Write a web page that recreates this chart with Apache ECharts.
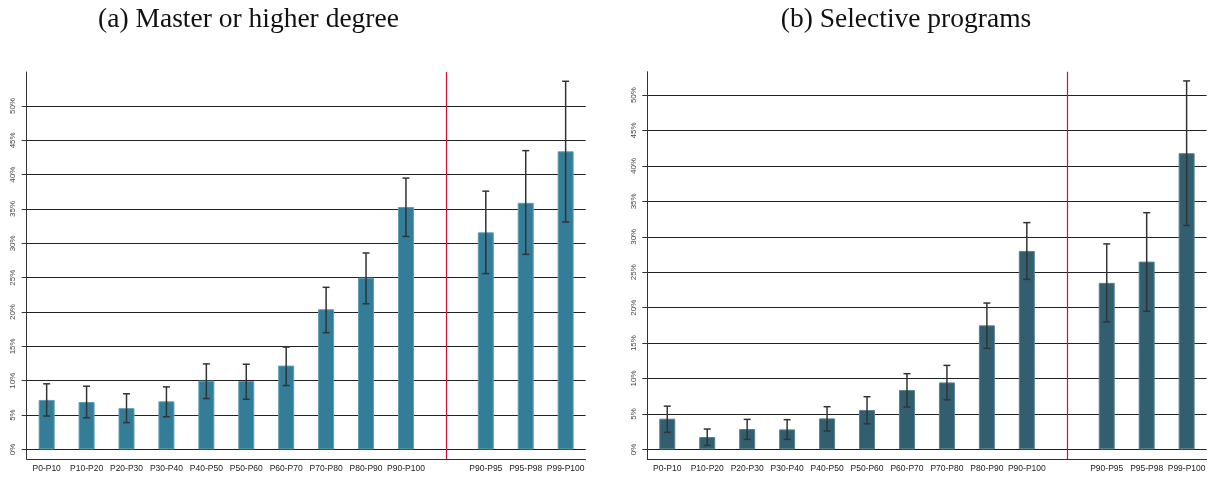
<!DOCTYPE html>
<html>
<head>
<meta charset="utf-8">
<script src="https://cdn.jsdelivr.net/npm/echarts@6/dist/echarts.min.js"></script>
<style>
html,body{margin:0;padding:0;background:#fff;}
#c{width:1209px;height:481px;}
</style>
</head>
<body>
<div id="c"></div>
<script>
// ---- Data ----
const categories = ['P0-P10','P10-P20','P20-P30','P30-P40','P40-P50','P50-P60','P60-P70','P70-P80','P80-P90','P90-P100','','P90-P95','P95-P98','P99-P100'];
const yTicks = [0,5,10,15,20,25,30,35,40,45,50];

const masterValues = [7.2, 6.9, 6.0, 7.0, 10.0, 9.95, 12.2, 20.4, 25.0, 35.3, null, 31.6, 35.9, 43.4];
const masterLow    = [4.85, 4.6, 3.9, 4.75, 7.4, 7.3, 9.3, 17.0, 21.2, 31.0, null, 25.6, 28.4, 33.1];
const masterHigh   = [9.55, 9.2, 8.1, 9.1, 12.45, 12.4, 14.9, 23.6, 28.6, 39.5, null, 37.6, 43.5, 53.6];

const selectiveValues = [4.33, 1.74, 2.87, 2.82, 4.37, 5.55, 8.37, 9.45, 17.5, 28.0, null, 23.5, 26.5, 41.8];
const selectiveLow    = [2.4, 0.56, 1.41, 1.41, 2.59, 3.62, 5.97, 7.0, 14.25, 24.0, null, 18.0, 19.5, 31.6];
const selectiveHigh   = [6.1, 2.87, 4.23, 4.19, 6.02, 7.43, 10.68, 11.85, 20.65, 32.0, null, 29.0, 33.4, 52.0];

const titles = ['(a) Master or higher degree', '(b) Selective programs'];
const separatorCategory = '';

// ---- Build ----
const chart = echarts.init(document.getElementById('c'), null, {renderer: 'canvas'});

function toBar(arr){ return arr.map(v => v == null ? '-' : v); }
function toErr(lo, hi){
  const out = [];
  lo.forEach((l, i) => { if (l != null) out.push([i, l, hi[i]]); });
  return out;
}

const grids = [
  {left: 26.7, top: 72, width: 558.9, height: 387},
  {left: 647.3, top: 71.7, width: 559.3, height: 387.3}
];
const yRanges = [[-1.4, 54.95], [-1.36, 53.3]];
const barColors = [
  {fill: '#337d98', border: '#5f9cb3'},
  {fill: '#325f6f', border: '#5a8190'}
];

function xAxisOf(gi){
  return {
    type: 'category', gridIndex: gi, data: categories, boundaryGap: true,
    axisLine: {onZero: false, lineStyle: {color: '#333', width: 1}},
    axisTick: {alignWithLabel: true, length: 5, lineStyle: {color: '#333'},
      interval: (i, v) => v !== separatorCategory},
    axisLabel: {fontFamily: 'Liberation Sans', fontSize: 8.5, color: '#222', margin: 5, interval: 0},
    splitLine: {show: false}
  };
}
function yAxisOf(gi){
  return {
    type: 'value', gridIndex: gi, min: yRanges[gi][0], max: yRanges[gi][1],
    axisLine: {show: true, lineStyle: {color: '#333', width: 1}},
    axisTick: {show: true, length: 5, customValues: yTicks, lineStyle: {color: '#333'}},
    axisLabel: {customValues: yTicks, formatter: v => v + '%', rotate: 90,
      fontFamily: 'Liberation Sans', fontSize: 8, color: '#444', margin: 10},
    splitLine: {show: true, lineStyle: {color: '#222', width: 1.2}}
  };
}

function errSeries(gi, lo, hi){
  return {
    type: 'custom', xAxisIndex: gi, yAxisIndex: gi, z: 5,
    data: toErr(lo, hi),
    renderItem: (params, api) => {
      const x = api.value(0);
      const pLo = api.coord([x, api.value(1)]);
      const pHi = api.coord([x, api.value(2)]);
      const cap = 3.5;
      const style = {stroke: '#333', lineWidth: 1.5};
      return {type: 'group', children: [
        {type: 'line', shape: {x1: pLo[0], y1: pLo[1], x2: pHi[0], y2: pHi[1]}, style},
        {type: 'line', shape: {x1: pLo[0]-cap, y1: pLo[1], x2: pLo[0]+cap, y2: pLo[1]}, style},
        {type: 'line', shape: {x1: pHi[0]-cap, y1: pHi[1], x2: pHi[0]+cap, y2: pHi[1]}, style}
      ]};
    }
  };
}
function barSeries(gi, vals){
  return {
    type: 'bar', xAxisIndex: gi, yAxisIndex: gi, barWidth: 16, z: 3,
    data: toBar(vals),
    itemStyle: {color: barColors[gi].fill, borderColor: barColors[gi].border, borderWidth: 1},
    markLine: {
      silent: true, symbol: 'none', label: {show: false},
      lineStyle: {color: '#d0103a', width: 1.2, type: 'solid'},
      data: [{xAxis: categories.indexOf(separatorCategory)}]
    }
  };
}

const option = {
  animation: false,
  backgroundColor: '#fff',
  grid: grids,
  xAxis: [xAxisOf(0), xAxisOf(1)],
  yAxis: [yAxisOf(0), yAxisOf(1)],
  graphic: [
    {type: 'text', x: 248.5, y: 20, style: {text: titles[0], fill: '#111',
      font: '27.5px "Liberation Serif"', textAlign: 'center', textVerticalAlign: 'middle'}},
    {type: 'text', x: 906, y: 20, style: {text: titles[1], fill: '#111',
      font: '27.5px "Liberation Serif"', textAlign: 'center', textVerticalAlign: 'middle'}}
  ],
  series: [
    barSeries(0, masterValues), errSeries(0, masterLow, masterHigh),
    barSeries(1, selectiveValues), errSeries(1, selectiveLow, selectiveHigh)
  ]
};
chart.setOption(option);
</script>
</body>
</html>
